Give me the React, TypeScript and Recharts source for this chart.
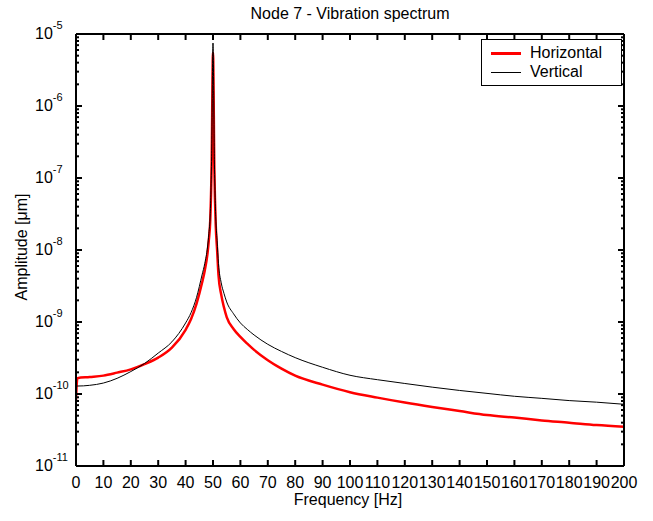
import React from "react";
import { LineChart, Line, XAxis, YAxis } from "recharts";

// frequency samples [Hz]
const freq = [
  0, 0.5, 5, 10, 15, 20, 25, 30, 35, 40, 42, 44, 46, 47, 48, 48.5, 49, 49.5, 50,
  50.5, 51, 51.5, 52, 53, 54, 55, 57.5, 60, 62.5, 65, 70, 75, 80, 90, 100, 110,
  120, 130, 140, 150, 160, 170, 180, 190, 200,
];

// amplitude [um], red curve
const horizontal = [
  8.3e-11, 1.66e-10, 1.72e-10, 1.8e-10, 1.98e-10, 2.2e-10, 2.6e-10, 3.2e-10,
  4.4e-10, 7.8e-10, 1.1e-9, 1.8e-9, 3.5e-9, 5.2e-9, 9e-9, 1.4e-8, 2.6e-8, 1.5e-7,
  5.5e-6, 1.3e-7, 2.2e-8, 1e-8, 4.5e-9, 2.4e-9, 1.6e-9, 1.17e-9, 8e-10, 6.2e-10,
  5e-10, 4.1e-10, 2.95e-10, 2.25e-10, 1.8e-10, 1.35e-10, 1.06e-10, 8.9e-11,
  7.6e-11, 6.6e-11, 5.8e-11, 5.1e-11, 4.7e-11, 4.3e-11, 4.0e-11, 3.7e-11, 3.5e-11,
];

// amplitude [um], black curve
const vertical = [
  1.29e-10, 1.29e-10, 1.32e-10, 1.42e-10, 1.65e-10, 2.05e-10, 2.65e-10, 3.7e-10,
  5.3e-10, 9.7e-10, 1.35e-9, 2.2e-9, 4.5e-9, 6.5e-9, 1.1e-8, 1.7e-8, 3.2e-8, 2e-7,
  7.5e-6, 1.8e-7, 2.9e-8, 1.35e-8, 6.5e-9, 3.5e-9, 2.5e-9, 1.9e-9, 1.3e-9,
  9.7e-10, 7.9e-10, 6.6e-10, 4.9e-10, 3.9e-10, 3.2e-10, 2.35e-10, 1.82e-10,
  1.58e-10, 1.4e-10, 1.245e-10, 1.12e-10, 1.02e-10, 9.3e-11, 8.7e-11, 8.1e-11,
  7.7e-11, 7.2e-11,
];

const xTicks = [
  0, 10, 20, 30, 40, 50, 60, 70, 80, 90, 100, 110, 120, 130, 140, 150, 160, 170,
  180, 190, 200,
];
const decadeExponents = [-11, -10, -9, -8, -7, -6, -5];
const minorSteps = [2, 3, 4, 5, 6, 7, 8, 9];

const yTicks: number[] = [];
decadeExponents.forEach((e, i) => {
  yTicks.push(Math.pow(10, e));
  if (i < decadeExponents.length - 1) {
    minorSteps.forEach((m) => yTicks.push(m * Math.pow(10, e)));
  }
});

const data = freq.map((f, i) => ({ f, h: horizontal[i], v: vertical[i] }));

const FONT = "'Liberation Sans', Arial, Helvetica, sans-serif";

function isDecade(v: number) {
  const l = Math.log10(v);
  return Math.abs(l - Math.round(l)) < 1e-6;
}

function BottomTick({ x, y, payload }: any) {
  return (
    <g>
      <path d={`M${x},${y}V${y - 6}`} stroke="#000" strokeWidth={2} fill="none" />
      <text x={x} y={y + 22} textAnchor="middle" fontSize={16} fill="#000" fontFamily={FONT}>
        {payload.value}
      </text>
    </g>
  );
}

function TopTick({ x, y }: any) {
  return <path d={`M${x},${y}V${y + 6}`} stroke="#000" strokeWidth={2} fill="none" />;
}

function LeftTick({ x, y, payload }: any) {
  const major = isDecade(payload.value);
  const exp = Math.round(Math.log10(payload.value));
  return (
    <g>
      <path d={`M${x},${y}H${x + (major ? 6 : 3)}`} stroke="#000" strokeWidth={2} fill="none" />
      {major && (
        <text x={x - 41} y={y + 4.5} fontSize={16} fill="#000" fontFamily={FONT}>
          10
          <tspan dy={-10} fontSize={11}>
            {exp}
          </tspan>
        </text>
      )}
    </g>
  );
}

function RightTick({ x, y, payload }: any) {
  const major = isDecade(payload.value);
  return <path d={`M${x},${y}H${x - (major ? 6 : 3)}`} stroke="#000" strokeWidth={2} fill="none" />;
}

export default function App() {
  return (
    <div
      style={{
        position: "absolute",
        left: 0,
        top: 0,
        width: 653,
        height: 521,
        background: "#fff",
        fontFamily: FONT,
        color: "#000",
      }}
    >
      <LineChart
        width={653}
        height={521}
        data={data}
        margin={{ top: 33, right: 28, left: 16, bottom: 25 }}
        style={{ fontFamily: FONT }}
      >
        <XAxis
          dataKey="f"
          type="number"
          domain={[0, 200]}
          ticks={xTicks}
          interval={0}
          allowDataOverflow
          height={30}
          tickSize={0}
          tickMargin={0}
          tickLine={false}
          axisLine={{ stroke: "#000", strokeWidth: 2 }}
          tick={<BottomTick />}
        />
        <XAxis
          xAxisId="top"
          dataKey="f"
          orientation="top"
          type="number"
          domain={[0, 200]}
          ticks={xTicks}
          interval={0}
          allowDataOverflow
          height={1}
          tickSize={0}
          tickMargin={0}
          tickLine={false}
          axisLine={{ stroke: "#000", strokeWidth: 2 }}
          tick={<TopTick />}
        />
        <YAxis
          type="number"
          scale="log"
          domain={[1e-11, 1e-5]}
          ticks={yTicks}
          interval={0}
          allowDataOverflow
          width={60}
          tickSize={0}
          tickMargin={0}
          tickLine={false}
          axisLine={{ stroke: "#000", strokeWidth: 2 }}
          tick={<LeftTick />}
        />
        <YAxis
          yAxisId="right"
          orientation="right"
          type="number"
          scale="log"
          domain={[1e-11, 1e-5]}
          ticks={yTicks}
          interval={0}
          allowDataOverflow
          width={1}
          tickSize={0}
          tickMargin={0}
          tickLine={false}
          axisLine={{ stroke: "#000", strokeWidth: 2 }}
          tick={<RightTick />}
        />
        {/* invisible series so the box axes (top / right) get drawn */}
        <Line
          xAxisId="top"
          yAxisId="right"
          dataKey="v"
          stroke="none"
          dot={false}
          activeDot={false}
          legendType="none"
          isAnimationActive={false}
        />
        <Line
          type="monotone"
          dataKey="h"
          name="Horizontal"
          stroke="#ff0000"
          strokeWidth={2.5}
          dot={false}
          isAnimationActive={false}
        />
        <Line
          type="monotone"
          dataKey="v"
          name="Vertical"
          stroke="#000000"
          strokeWidth={1}
          dot={false}
          isAnimationActive={false}
        />
      </LineChart>

      {/* title and axis labels */}
      <div
        style={{
          position: "absolute",
          left: 350,
          top: 14,
          transform: "translate(-50%, -50%)",
          fontSize: 16,
          whiteSpace: "nowrap",
        }}
      >
        Node 7 - Vibration spectrum
      </div>
      <div
        style={{
          position: "absolute",
          left: 348,
          top: 500,
          transform: "translate(-50%, -50%)",
          fontSize: 16,
          whiteSpace: "nowrap",
        }}
      >
        Frequency [Hz]
      </div>
      <div
        style={{
          position: "absolute",
          left: 22,
          top: 247,
          transform: "translate(-50%, -50%) rotate(-90deg)",
          fontSize: 16,
          whiteSpace: "nowrap",
        }}
      >
        Amplitude [μm]
      </div>

      {/* legend */}
      <div
        style={{
          position: "absolute",
          left: 481,
          top: 39,
          width: 141,
          height: 47,
          boxSizing: "border-box",
          border: "1px solid #000",
          background: "#fff",
          fontSize: 16,
        }}
      >
        <div style={{ position: "absolute", left: 9, top: 12, width: 30, height: 2.5, background: "#ff0000" }} />
        <div style={{ position: "absolute", left: 48, top: 4, lineHeight: "18px" }}>Horizontal</div>
        <div style={{ position: "absolute", left: 9, top: 32, width: 30, height: 1, background: "#000" }} />
        <div style={{ position: "absolute", left: 48, top: 23, lineHeight: "18px" }}>Vertical</div>
      </div>
    </div>
  );
}
